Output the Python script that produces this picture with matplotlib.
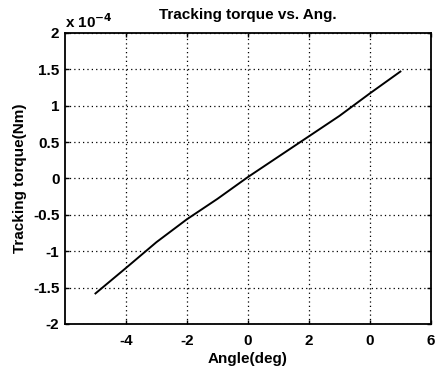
import matplotlib
matplotlib.use("Agg")
import matplotlib.pyplot as plt

# Data (torque in units of 1e-4 Nm)
angle_deg = [-5, -4, -3, -2, -1, 0, 1, 2, 3, 4, 5]
torque_e4 = [-1.58, -1.23, -0.875, -0.56, -0.28, 0.02, 0.30, 0.58, 0.86, 1.17, 1.47]
xticks = [-4, -2, 0, 2, 4, 6]
xtick_labels = ['-4', '-2', '0', '2', '0', '6']
yticks = [-2, -1.5, -1, -0.5, 0, 0.5, 1, 1.5, 2]
ytick_labels = ['-2', '-1.5', '-1', '-0.5', '0', '0.5', '1', '1.5', '2']

plt.rcParams['font.family'] = ['Liberation Sans', 'DejaVu Sans']
FS = 11

fig = plt.figure(figsize=(4.37, 3.74), dpi=100)
ax = fig.add_axes([0.1487, 0.1337, 0.8373, 0.7781])

ax.plot(angle_deg, torque_e4, color='black', linewidth=1.4)

ax.set_xlim(-6, 6)
ax.set_ylim(-2, 2)
ax.set_xticks(xticks)
ax.set_xticklabels(xtick_labels, fontsize=FS, fontweight='bold')
ax.set_yticks(yticks)
ax.set_yticklabels(ytick_labels, fontsize=FS, fontweight='bold')
ax.tick_params(direction='in', top=True, right=True, length=3, width=1, pad=4)
ax.tick_params(axis='x', pad=7)

ax.grid(True, color='black', linestyle=(0, (1, 2.5)), linewidth=0.9)
for s in ax.spines.values():
    s.set_linewidth(1.3)
    s.set_color('black')

ax.set_title('Tracking torque vs. Ang.', fontsize=FS, fontweight='bold', pad=10)
ax.set_xlabel('Angle(deg)', fontsize=FS, fontweight='bold', labelpad=3)
ax.set_ylabel('Tracking torque(Nm)', fontsize=FS, fontweight='bold', labelpad=4)
ax.text(0.0, 1.008, r'x 10$^{\mathbf{-4}}$', transform=ax.transAxes, fontsize=FS,
        fontweight='bold', ha='left', va='bottom')

fig.savefig('out.png', dpi=100)
